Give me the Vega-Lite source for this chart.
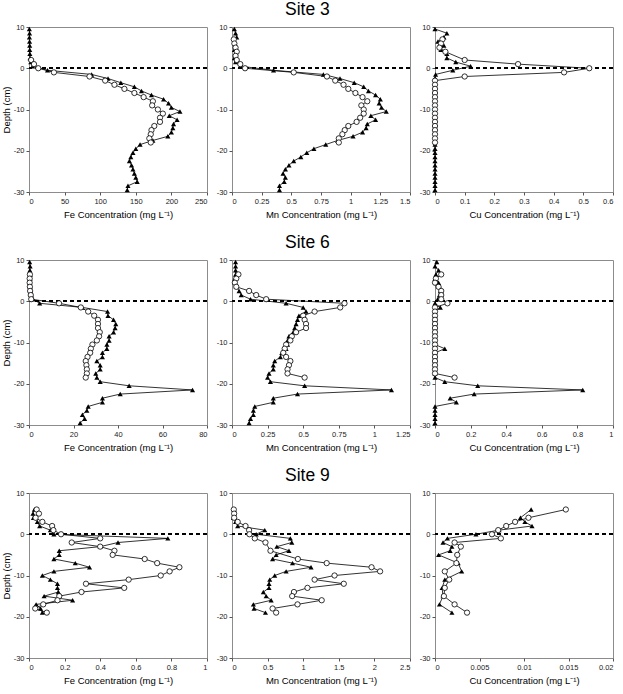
{
"$schema":"https://vega.github.io/schema/vega-lite/v6.json",
"padding":{"left":0,"top":1,"right":4,"bottom":1},
"datasets":{"d":[
{"s":3,"e":"Fe","t":"T","d":9.5,"v":0.5},{"s":3,"e":"Fe","t":"T","d":8.5,"v":0.8},{"s":3,"e":"Fe","t":"T","d":7.5,"v":0.6},{"s":3,"e":"Fe","t":"T","d":6.5,"v":0.8},{"s":3,"e":"Fe","t":"T","d":5.5,"v":1},{"s":3,"e":"Fe","t":"T","d":4.5,"v":1},{"s":3,"e":"Fe","t":"T","d":3.5,"v":1.2},{"s":3,"e":"Fe","t":"T","d":2.5,"v":1.5},{"s":3,"e":"Fe","t":"T","d":1.5,"v":2.5},{"s":3,"e":"Fe","t":"T","d":0.5,"v":5},{"s":3,"e":"Fe","t":"T","d":-0.5,"v":26},{"s":3,"e":"Fe","t":"T","d":-1.5,"v":88},{"s":3,"e":"Fe","t":"T","d":-2.5,"v":111},{"s":3,"e":"Fe","t":"T","d":-3.5,"v":129},{"s":3,"e":"Fe","t":"T","d":-4.5,"v":148},{"s":3,"e":"Fe","t":"T","d":-5.5,"v":158},{"s":3,"e":"Fe","t":"T","d":-6.5,"v":172},{"s":3,"e":"Fe","t":"T","d":-7.5,"v":189},{"s":3,"e":"Fe","t":"T","d":-8.5,"v":196},{"s":3,"e":"Fe","t":"T","d":-9.5,"v":200},{"s":3,"e":"Fe","t":"T","d":-10.5,"v":212},{"s":3,"e":"Fe","t":"T","d":-11.5,"v":197},{"s":3,"e":"Fe","t":"T","d":-12.5,"v":208},{"s":3,"e":"Fe","t":"T","d":-13.5,"v":203},{"s":3,"e":"Fe","t":"T","d":-14.5,"v":202},{"s":3,"e":"Fe","t":"T","d":-15.5,"v":200},{"s":3,"e":"Fe","t":"T","d":-16.5,"v":195},{"s":3,"e":"Fe","t":"T","d":-17.5,"v":174},{"s":3,"e":"Fe","t":"T","d":-18.5,"v":156},{"s":3,"e":"Fe","t":"T","d":-19.5,"v":150},{"s":3,"e":"Fe","t":"T","d":-20.5,"v":146},{"s":3,"e":"Fe","t":"T","d":-21.5,"v":143},{"s":3,"e":"Fe","t":"T","d":-22.5,"v":141},{"s":3,"e":"Fe","t":"T","d":-23.5,"v":144},{"s":3,"e":"Fe","t":"T","d":-24.5,"v":146},{"s":3,"e":"Fe","t":"T","d":-25.5,"v":148},{"s":3,"e":"Fe","t":"T","d":-26.5,"v":150},{"s":3,"e":"Fe","t":"T","d":-27.5,"v":152},{"s":3,"e":"Fe","t":"T","d":-28.5,"v":139},{"s":3,"e":"Fe","t":"T","d":-29.5,"v":138},
{"s":3,"e":"Fe","t":"C","d":2,"v":3},{"s":3,"e":"Fe","t":"C","d":1,"v":7},{"s":3,"e":"Fe","t":"C","d":0,"v":13},{"s":3,"e":"Fe","t":"C","d":-1,"v":35},{"s":3,"e":"Fe","t":"C","d":-2,"v":85},{"s":3,"e":"Fe","t":"C","d":-3,"v":107},{"s":3,"e":"Fe","t":"C","d":-4,"v":120},{"s":3,"e":"Fe","t":"C","d":-5,"v":134},{"s":3,"e":"Fe","t":"C","d":-6,"v":148},{"s":3,"e":"Fe","t":"C","d":-7,"v":161},{"s":3,"e":"Fe","t":"C","d":-8,"v":174},{"s":3,"e":"Fe","t":"C","d":-9,"v":173},{"s":3,"e":"Fe","t":"C","d":-10,"v":181},{"s":3,"e":"Fe","t":"C","d":-11,"v":188},{"s":3,"e":"Fe","t":"C","d":-12,"v":184},{"s":3,"e":"Fe","t":"C","d":-13,"v":184},{"s":3,"e":"Fe","t":"C","d":-14,"v":176},{"s":3,"e":"Fe","t":"C","d":-15,"v":172},{"s":3,"e":"Fe","t":"C","d":-16,"v":171},{"s":3,"e":"Fe","t":"C","d":-17,"v":169},{"s":3,"e":"Fe","t":"C","d":-18,"v":171},
{"s":3,"e":"Mn","t":"T","d":9.5,"v":0.02},{"s":3,"e":"Mn","t":"T","d":8.5,"v":0.03},{"s":3,"e":"Mn","t":"T","d":7.5,"v":0.04},{"s":3,"e":"Mn","t":"T","d":6.5,"v":0.02},{"s":3,"e":"Mn","t":"T","d":5.5,"v":0.03},{"s":3,"e":"Mn","t":"T","d":4.5,"v":0.02},{"s":3,"e":"Mn","t":"T","d":3.5,"v":0.03},{"s":3,"e":"Mn","t":"T","d":2.5,"v":0.02},{"s":3,"e":"Mn","t":"T","d":1.5,"v":0.03},{"s":3,"e":"Mn","t":"T","d":0.5,"v":0.07},{"s":3,"e":"Mn","t":"T","d":-0.5,"v":0.35},{"s":3,"e":"Mn","t":"T","d":-1.5,"v":0.77},{"s":3,"e":"Mn","t":"T","d":-2.5,"v":0.91},{"s":3,"e":"Mn","t":"T","d":-3.5,"v":1.03},{"s":3,"e":"Mn","t":"T","d":-4.5,"v":1.11},{"s":3,"e":"Mn","t":"T","d":-5.5,"v":1.15},{"s":3,"e":"Mn","t":"T","d":-6.5,"v":1.21},{"s":3,"e":"Mn","t":"T","d":-7.5,"v":1.25},{"s":3,"e":"Mn","t":"T","d":-8.5,"v":1.24},{"s":3,"e":"Mn","t":"T","d":-9.5,"v":1.26},{"s":3,"e":"Mn","t":"T","d":-10.5,"v":1.3},{"s":3,"e":"Mn","t":"T","d":-11.5,"v":1.17},{"s":3,"e":"Mn","t":"T","d":-12.5,"v":1.21},{"s":3,"e":"Mn","t":"T","d":-13.5,"v":1.14},{"s":3,"e":"Mn","t":"T","d":-14.5,"v":1.13},{"s":3,"e":"Mn","t":"T","d":-15.5,"v":1.1},{"s":3,"e":"Mn","t":"T","d":-16.5,"v":1.02},{"s":3,"e":"Mn","t":"T","d":-17.5,"v":0.89},{"s":3,"e":"Mn","t":"T","d":-18.5,"v":0.79},{"s":3,"e":"Mn","t":"T","d":-19.5,"v":0.69},{"s":3,"e":"Mn","t":"T","d":-20.5,"v":0.63},{"s":3,"e":"Mn","t":"T","d":-21.5,"v":0.58},{"s":3,"e":"Mn","t":"T","d":-22.5,"v":0.52},{"s":3,"e":"Mn","t":"T","d":-23.5,"v":0.48},{"s":3,"e":"Mn","t":"T","d":-24.5,"v":0.45},{"s":3,"e":"Mn","t":"T","d":-25.5,"v":0.43},{"s":3,"e":"Mn","t":"T","d":-26.5,"v":0.45},{"s":3,"e":"Mn","t":"T","d":-27.5,"v":0.44},{"s":3,"e":"Mn","t":"T","d":-28.5,"v":0.4},{"s":3,"e":"Mn","t":"T","d":-29.5,"v":0.4},
{"s":3,"e":"Mn","t":"C","d":7,"v":0.015},{"s":3,"e":"Mn","t":"C","d":6,"v":0.02},{"s":3,"e":"Mn","t":"C","d":5,"v":0.03},{"s":3,"e":"Mn","t":"C","d":4,"v":0.04},{"s":3,"e":"Mn","t":"C","d":3,"v":0.03},{"s":3,"e":"Mn","t":"C","d":2,"v":0.04},{"s":3,"e":"Mn","t":"C","d":1,"v":0.07},{"s":3,"e":"Mn","t":"C","d":0,"v":0.11},{"s":3,"e":"Mn","t":"C","d":-1,"v":0.52},{"s":3,"e":"Mn","t":"C","d":-2,"v":0.8},{"s":3,"e":"Mn","t":"C","d":-3,"v":0.87},{"s":3,"e":"Mn","t":"C","d":-4,"v":0.94},{"s":3,"e":"Mn","t":"C","d":-5,"v":0.98},{"s":3,"e":"Mn","t":"C","d":-6,"v":1.04},{"s":3,"e":"Mn","t":"C","d":-7,"v":1.1},{"s":3,"e":"Mn","t":"C","d":-8,"v":1.14},{"s":3,"e":"Mn","t":"C","d":-9,"v":1.09},{"s":3,"e":"Mn","t":"C","d":-10,"v":1.11},{"s":3,"e":"Mn","t":"C","d":-11,"v":1.11},{"s":3,"e":"Mn","t":"C","d":-12,"v":1.08},{"s":3,"e":"Mn","t":"C","d":-13,"v":1.05},{"s":3,"e":"Mn","t":"C","d":-14,"v":0.98},{"s":3,"e":"Mn","t":"C","d":-15,"v":0.95},{"s":3,"e":"Mn","t":"C","d":-16,"v":0.93},{"s":3,"e":"Mn","t":"C","d":-17,"v":0.9},{"s":3,"e":"Mn","t":"C","d":-18,"v":0.9},
{"s":3,"e":"Cu","t":"T","d":9.5,"v":0},{"s":3,"e":"Cu","t":"T","d":8.5,"v":0.04},{"s":3,"e":"Cu","t":"T","d":7.5,"v":0.03},{"s":3,"e":"Cu","t":"T","d":6.5,"v":0.01},{"s":3,"e":"Cu","t":"T","d":5.5,"v":0.03},{"s":3,"e":"Cu","t":"T","d":4.5,"v":0.02},{"s":3,"e":"Cu","t":"T","d":3.5,"v":0.04},{"s":3,"e":"Cu","t":"T","d":2.5,"v":0.04},{"s":3,"e":"Cu","t":"T","d":1.5,"v":0.07},{"s":3,"e":"Cu","t":"T","d":0.5,"v":0.12},{"s":3,"e":"Cu","t":"T","d":-0.5,"v":0.06},{"s":3,"e":"Cu","t":"T","d":-1.5,"v":0.002},{"s":3,"e":"Cu","t":"T","d":-2.5,"v":0},{"s":3,"e":"Cu","t":"T","d":-3.5,"v":0},{"s":3,"e":"Cu","t":"T","d":-4.5,"v":0},{"s":3,"e":"Cu","t":"T","d":-5.5,"v":0},{"s":3,"e":"Cu","t":"T","d":-6.5,"v":0},{"s":3,"e":"Cu","t":"T","d":-7.5,"v":0},{"s":3,"e":"Cu","t":"T","d":-8.5,"v":0},{"s":3,"e":"Cu","t":"T","d":-9.5,"v":0},{"s":3,"e":"Cu","t":"T","d":-10.5,"v":0},{"s":3,"e":"Cu","t":"T","d":-11.5,"v":0},{"s":3,"e":"Cu","t":"T","d":-12.5,"v":0},{"s":3,"e":"Cu","t":"T","d":-13.5,"v":0},{"s":3,"e":"Cu","t":"T","d":-14.5,"v":0},{"s":3,"e":"Cu","t":"T","d":-15.5,"v":0},{"s":3,"e":"Cu","t":"T","d":-16.5,"v":0},{"s":3,"e":"Cu","t":"T","d":-17.5,"v":0},{"s":3,"e":"Cu","t":"T","d":-18.5,"v":0},{"s":3,"e":"Cu","t":"T","d":-19.5,"v":0},{"s":3,"e":"Cu","t":"T","d":-20.5,"v":0},{"s":3,"e":"Cu","t":"T","d":-21.5,"v":0},{"s":3,"e":"Cu","t":"T","d":-22.5,"v":0},{"s":3,"e":"Cu","t":"T","d":-23.5,"v":0},{"s":3,"e":"Cu","t":"T","d":-24.5,"v":0},{"s":3,"e":"Cu","t":"T","d":-25.5,"v":0},{"s":3,"e":"Cu","t":"T","d":-26.5,"v":0},{"s":3,"e":"Cu","t":"T","d":-27.5,"v":0},{"s":3,"e":"Cu","t":"T","d":-28.5,"v":0},{"s":3,"e":"Cu","t":"T","d":-29.5,"v":0},
{"s":3,"e":"Cu","t":"C","d":7,"v":0.025},{"s":3,"e":"Cu","t":"C","d":6,"v":0.02},{"s":3,"e":"Cu","t":"C","d":5,"v":0.015},{"s":3,"e":"Cu","t":"C","d":4,"v":0.035},{"s":3,"e":"Cu","t":"C","d":2,"v":0.1},{"s":3,"e":"Cu","t":"C","d":1,"v":0.28},{"s":3,"e":"Cu","t":"C","d":0,"v":0.52},{"s":3,"e":"Cu","t":"C","d":-1,"v":0.435},{"s":3,"e":"Cu","t":"C","d":-2,"v":0.1},{"s":3,"e":"Cu","t":"C","d":-3,"v":0},{"s":3,"e":"Cu","t":"C","d":-4,"v":0},{"s":3,"e":"Cu","t":"C","d":-5,"v":0},{"s":3,"e":"Cu","t":"C","d":-6,"v":0},{"s":3,"e":"Cu","t":"C","d":-7,"v":0},{"s":3,"e":"Cu","t":"C","d":-8,"v":0},{"s":3,"e":"Cu","t":"C","d":-9,"v":0},{"s":3,"e":"Cu","t":"C","d":-10,"v":0},{"s":3,"e":"Cu","t":"C","d":-11,"v":0},{"s":3,"e":"Cu","t":"C","d":-12,"v":0},{"s":3,"e":"Cu","t":"C","d":-13,"v":0},{"s":3,"e":"Cu","t":"C","d":-14,"v":0},{"s":3,"e":"Cu","t":"C","d":-15,"v":0},{"s":3,"e":"Cu","t":"C","d":-16,"v":0},{"s":3,"e":"Cu","t":"C","d":-17,"v":0},{"s":3,"e":"Cu","t":"C","d":-18,"v":0},
{"s":6,"e":"Fe","t":"T","d":9.5,"v":0.3},{"s":6,"e":"Fe","t":"T","d":8.5,"v":0.5},{"s":6,"e":"Fe","t":"T","d":7.5,"v":0.4},{"s":6,"e":"Fe","t":"T","d":6.5,"v":0.6},{"s":6,"e":"Fe","t":"T","d":5.5,"v":0.5},{"s":6,"e":"Fe","t":"T","d":4.5,"v":0.4},{"s":6,"e":"Fe","t":"T","d":3.5,"v":0.5},{"s":6,"e":"Fe","t":"T","d":2.5,"v":0.6},{"s":6,"e":"Fe","t":"T","d":1.5,"v":1},{"s":6,"e":"Fe","t":"T","d":0.5,"v":1.8},{"s":6,"e":"Fe","t":"T","d":-0.5,"v":4.8},{"s":6,"e":"Fe","t":"T","d":-1.5,"v":24},{"s":6,"e":"Fe","t":"T","d":-2.5,"v":35.3},{"s":6,"e":"Fe","t":"T","d":-3.5,"v":35.5},{"s":6,"e":"Fe","t":"T","d":-4.5,"v":38},{"s":6,"e":"Fe","t":"T","d":-5.5,"v":39},{"s":6,"e":"Fe","t":"T","d":-6.5,"v":38.7},{"s":6,"e":"Fe","t":"T","d":-7.5,"v":38},{"s":6,"e":"Fe","t":"T","d":-8.5,"v":36},{"s":6,"e":"Fe","t":"T","d":-9.5,"v":36},{"s":6,"e":"Fe","t":"T","d":-10.5,"v":35},{"s":6,"e":"Fe","t":"T","d":-11.5,"v":35},{"s":6,"e":"Fe","t":"T","d":-12.5,"v":33},{"s":6,"e":"Fe","t":"T","d":-13.5,"v":33},{"s":6,"e":"Fe","t":"T","d":-14.5,"v":30.5},{"s":6,"e":"Fe","t":"T","d":-15.5,"v":32},{"s":6,"e":"Fe","t":"T","d":-16.5,"v":32},{"s":6,"e":"Fe","t":"T","d":-17.5,"v":30},{"s":6,"e":"Fe","t":"T","d":-18.5,"v":30.5},{"s":6,"e":"Fe","t":"T","d":-19.5,"v":32},{"s":6,"e":"Fe","t":"T","d":-20.5,"v":45},{"s":6,"e":"Fe","t":"T","d":-21.5,"v":73.5},{"s":6,"e":"Fe","t":"T","d":-22.5,"v":41},{"s":6,"e":"Fe","t":"T","d":-23.5,"v":33},{"s":6,"e":"Fe","t":"T","d":-24.5,"v":33},{"s":6,"e":"Fe","t":"T","d":-25.5,"v":26.6},{"s":6,"e":"Fe","t":"T","d":-26.5,"v":26},{"s":6,"e":"Fe","t":"T","d":-27.5,"v":24},{"s":6,"e":"Fe","t":"T","d":-28.5,"v":25},{"s":6,"e":"Fe","t":"T","d":-29.5,"v":23},
{"s":6,"e":"Fe","t":"C","d":6.5,"v":0.4},{"s":6,"e":"Fe","t":"C","d":5.5,"v":0.3},{"s":6,"e":"Fe","t":"C","d":4.5,"v":0.3},{"s":6,"e":"Fe","t":"C","d":3.5,"v":0.4},{"s":6,"e":"Fe","t":"C","d":2.5,"v":0.5},{"s":6,"e":"Fe","t":"C","d":1.5,"v":0.8},{"s":6,"e":"Fe","t":"C","d":0.5,"v":1},{"s":6,"e":"Fe","t":"C","d":-0.5,"v":13.5},{"s":6,"e":"Fe","t":"C","d":-1.5,"v":23.3},{"s":6,"e":"Fe","t":"C","d":-2.5,"v":26.6},{"s":6,"e":"Fe","t":"C","d":-3.5,"v":29.3},{"s":6,"e":"Fe","t":"C","d":-4.5,"v":31},{"s":6,"e":"Fe","t":"C","d":-5.5,"v":31},{"s":6,"e":"Fe","t":"C","d":-6.5,"v":31},{"s":6,"e":"Fe","t":"C","d":-7.5,"v":31.8},{"s":6,"e":"Fe","t":"C","d":-8.5,"v":31.5},{"s":6,"e":"Fe","t":"C","d":-9.5,"v":30.5},{"s":6,"e":"Fe","t":"C","d":-10.5,"v":28.5},{"s":6,"e":"Fe","t":"C","d":-11.5,"v":27.8},{"s":6,"e":"Fe","t":"C","d":-12.5,"v":27.5},{"s":6,"e":"Fe","t":"C","d":-13.5,"v":26.3},{"s":6,"e":"Fe","t":"C","d":-14.5,"v":25.5},{"s":6,"e":"Fe","t":"C","d":-15.5,"v":25.8},{"s":6,"e":"Fe","t":"C","d":-16.5,"v":26},{"s":6,"e":"Fe","t":"C","d":-17.5,"v":26},{"s":6,"e":"Fe","t":"C","d":-18.5,"v":25.5},
{"s":6,"e":"Mn","t":"T","d":9.5,"v":0.025},{"s":6,"e":"Mn","t":"T","d":8.5,"v":0.025},{"s":6,"e":"Mn","t":"T","d":7.5,"v":0.025},{"s":6,"e":"Mn","t":"T","d":6.5,"v":0.025},{"s":6,"e":"Mn","t":"T","d":5.5,"v":0.02},{"s":6,"e":"Mn","t":"T","d":4.5,"v":0.02},{"s":6,"e":"Mn","t":"T","d":3.5,"v":0.03},{"s":6,"e":"Mn","t":"T","d":2.5,"v":0.05},{"s":6,"e":"Mn","t":"T","d":1.5,"v":0.065},{"s":6,"e":"Mn","t":"T","d":0.5,"v":0.13},{"s":6,"e":"Mn","t":"T","d":-0.5,"v":0.38},{"s":6,"e":"Mn","t":"T","d":-1.5,"v":0.5},{"s":6,"e":"Mn","t":"T","d":-2.5,"v":0.52},{"s":6,"e":"Mn","t":"T","d":-3.5,"v":0.47},{"s":6,"e":"Mn","t":"T","d":-4.5,"v":0.46},{"s":6,"e":"Mn","t":"T","d":-5.5,"v":0.45},{"s":6,"e":"Mn","t":"T","d":-6.5,"v":0.44},{"s":6,"e":"Mn","t":"T","d":-7.5,"v":0.43},{"s":6,"e":"Mn","t":"T","d":-8.5,"v":0.4},{"s":6,"e":"Mn","t":"T","d":-9.5,"v":0.39},{"s":6,"e":"Mn","t":"T","d":-10.5,"v":0.39},{"s":6,"e":"Mn","t":"T","d":-11.5,"v":0.38},{"s":6,"e":"Mn","t":"T","d":-12.5,"v":0.35},{"s":6,"e":"Mn","t":"T","d":-13.5,"v":0.34},{"s":6,"e":"Mn","t":"T","d":-14.5,"v":0.3},{"s":6,"e":"Mn","t":"T","d":-15.5,"v":0.29},{"s":6,"e":"Mn","t":"T","d":-16.5,"v":0.29},{"s":6,"e":"Mn","t":"T","d":-17.5,"v":0.26},{"s":6,"e":"Mn","t":"T","d":-18.5,"v":0.25},{"s":6,"e":"Mn","t":"T","d":-19.5,"v":0.27},{"s":6,"e":"Mn","t":"T","d":-20.5,"v":0.51},{"s":6,"e":"Mn","t":"T","d":-21.5,"v":1.12},{"s":6,"e":"Mn","t":"T","d":-22.5,"v":0.46},{"s":6,"e":"Mn","t":"T","d":-23.5,"v":0.29},{"s":6,"e":"Mn","t":"T","d":-24.5,"v":0.29},{"s":6,"e":"Mn","t":"T","d":-25.5,"v":0.16},{"s":6,"e":"Mn","t":"T","d":-26.5,"v":0.15},{"s":6,"e":"Mn","t":"T","d":-27.5,"v":0.15},{"s":6,"e":"Mn","t":"T","d":-28.5,"v":0.13},{"s":6,"e":"Mn","t":"T","d":-29.5,"v":0.12},
{"s":6,"e":"Mn","t":"C","d":6.5,"v":0.045},{"s":6,"e":"Mn","t":"C","d":5.5,"v":0.03},{"s":6,"e":"Mn","t":"C","d":4.5,"v":0.02},{"s":6,"e":"Mn","t":"C","d":3.5,"v":0.03},{"s":6,"e":"Mn","t":"C","d":2.5,"v":0.12},{"s":6,"e":"Mn","t":"C","d":1.5,"v":0.17},{"s":6,"e":"Mn","t":"C","d":0.5,"v":0.24},{"s":6,"e":"Mn","t":"C","d":-0.5,"v":0.79},{"s":6,"e":"Mn","t":"C","d":-1.5,"v":0.76},{"s":6,"e":"Mn","t":"C","d":-2.5,"v":0.58},{"s":6,"e":"Mn","t":"C","d":-3.5,"v":0.5},{"s":6,"e":"Mn","t":"C","d":-4.5,"v":0.51},{"s":6,"e":"Mn","t":"C","d":-5.5,"v":0.52},{"s":6,"e":"Mn","t":"C","d":-6.5,"v":0.52},{"s":6,"e":"Mn","t":"C","d":-7.5,"v":0.45},{"s":6,"e":"Mn","t":"C","d":-8.5,"v":0.42},{"s":6,"e":"Mn","t":"C","d":-9.5,"v":0.41},{"s":6,"e":"Mn","t":"C","d":-10.5,"v":0.38},{"s":6,"e":"Mn","t":"C","d":-11.5,"v":0.37},{"s":6,"e":"Mn","t":"C","d":-12.5,"v":0.36},{"s":6,"e":"Mn","t":"C","d":-13.5,"v":0.38},{"s":6,"e":"Mn","t":"C","d":-14.5,"v":0.41},{"s":6,"e":"Mn","t":"C","d":-15.5,"v":0.4},{"s":6,"e":"Mn","t":"C","d":-16.5,"v":0.39},{"s":6,"e":"Mn","t":"C","d":-17.5,"v":0.39},{"s":6,"e":"Mn","t":"C","d":-18.5,"v":0.51},
{"s":6,"e":"Cu","t":"T","d":9.5,"v":0.01},{"s":6,"e":"Cu","t":"T","d":8.5,"v":0},{"s":6,"e":"Cu","t":"T","d":7.5,"v":0.02},{"s":6,"e":"Cu","t":"T","d":6.5,"v":0.005},{"s":6,"e":"Cu","t":"T","d":5.5,"v":0},{"s":6,"e":"Cu","t":"T","d":4.5,"v":0.02},{"s":6,"e":"Cu","t":"T","d":3.5,"v":0.025},{"s":6,"e":"Cu","t":"T","d":2.5,"v":0.03},{"s":6,"e":"Cu","t":"T","d":1.5,"v":0.025},{"s":6,"e":"Cu","t":"T","d":0.5,"v":0.015},{"s":6,"e":"Cu","t":"T","d":-0.5,"v":0},{"s":6,"e":"Cu","t":"T","d":-1.5,"v":0.03},{"s":6,"e":"Cu","t":"T","d":-2.5,"v":0},{"s":6,"e":"Cu","t":"T","d":-3.5,"v":0},{"s":6,"e":"Cu","t":"T","d":-4.5,"v":0},{"s":6,"e":"Cu","t":"T","d":-5.5,"v":0},{"s":6,"e":"Cu","t":"T","d":-6.5,"v":0},{"s":6,"e":"Cu","t":"T","d":-7.5,"v":0},{"s":6,"e":"Cu","t":"T","d":-8.5,"v":0},{"s":6,"e":"Cu","t":"T","d":-9.5,"v":0},{"s":6,"e":"Cu","t":"T","d":-10.5,"v":0},{"s":6,"e":"Cu","t":"T","d":-11.5,"v":0.055},{"s":6,"e":"Cu","t":"T","d":-12.5,"v":0},{"s":6,"e":"Cu","t":"T","d":-13.5,"v":0},{"s":6,"e":"Cu","t":"T","d":-14.5,"v":0},{"s":6,"e":"Cu","t":"T","d":-15.5,"v":0},{"s":6,"e":"Cu","t":"T","d":-16.5,"v":0},{"s":6,"e":"Cu","t":"T","d":-17.5,"v":0},{"s":6,"e":"Cu","t":"T","d":-18.5,"v":0},{"s":6,"e":"Cu","t":"T","d":-19.5,"v":0.055},{"s":6,"e":"Cu","t":"T","d":-20.5,"v":0.24},{"s":6,"e":"Cu","t":"T","d":-21.5,"v":0.83},{"s":6,"e":"Cu","t":"T","d":-22.5,"v":0.22},{"s":6,"e":"Cu","t":"T","d":-23.5,"v":0.085},{"s":6,"e":"Cu","t":"T","d":-24.5,"v":0.12},{"s":6,"e":"Cu","t":"T","d":-25.5,"v":0},{"s":6,"e":"Cu","t":"T","d":-26.5,"v":0},{"s":6,"e":"Cu","t":"T","d":-27.5,"v":0},{"s":6,"e":"Cu","t":"T","d":-28.5,"v":0},{"s":6,"e":"Cu","t":"T","d":-29.5,"v":0},
{"s":6,"e":"Cu","t":"C","d":6.5,"v":0.035},{"s":6,"e":"Cu","t":"C","d":5.5,"v":0.005},{"s":6,"e":"Cu","t":"C","d":4.5,"v":0},{"s":6,"e":"Cu","t":"C","d":3.5,"v":0.02},{"s":6,"e":"Cu","t":"C","d":2.5,"v":0.035},{"s":6,"e":"Cu","t":"C","d":1.5,"v":0.035},{"s":6,"e":"Cu","t":"C","d":0.5,"v":0.035},{"s":6,"e":"Cu","t":"C","d":-0.5,"v":0.07},{"s":6,"e":"Cu","t":"C","d":-1.5,"v":0},{"s":6,"e":"Cu","t":"C","d":-2.5,"v":0},{"s":6,"e":"Cu","t":"C","d":-3.5,"v":0},{"s":6,"e":"Cu","t":"C","d":-4.5,"v":0},{"s":6,"e":"Cu","t":"C","d":-5.5,"v":0},{"s":6,"e":"Cu","t":"C","d":-6.5,"v":0},{"s":6,"e":"Cu","t":"C","d":-7.5,"v":0},{"s":6,"e":"Cu","t":"C","d":-8.5,"v":0},{"s":6,"e":"Cu","t":"C","d":-9.5,"v":0},{"s":6,"e":"Cu","t":"C","d":-10.5,"v":0},{"s":6,"e":"Cu","t":"C","d":-11.5,"v":0},{"s":6,"e":"Cu","t":"C","d":-12.5,"v":0},{"s":6,"e":"Cu","t":"C","d":-13.5,"v":0},{"s":6,"e":"Cu","t":"C","d":-14.5,"v":0},{"s":6,"e":"Cu","t":"C","d":-15.5,"v":0},{"s":6,"e":"Cu","t":"C","d":-16.5,"v":0},{"s":6,"e":"Cu","t":"C","d":-17.5,"v":0},{"s":6,"e":"Cu","t":"C","d":-18.5,"v":0.11},
{"s":9,"e":"Fe","t":"T","d":6,"v":0.03},{"s":9,"e":"Fe","t":"T","d":5,"v":0.022},{"s":9,"e":"Fe","t":"T","d":4,"v":0.025},{"s":9,"e":"Fe","t":"T","d":3,"v":0.047},{"s":9,"e":"Fe","t":"T","d":2,"v":0.06},{"s":9,"e":"Fe","t":"T","d":1,"v":0.12},{"s":9,"e":"Fe","t":"T","d":0,"v":0.14},{"s":9,"e":"Fe","t":"T","d":-1,"v":0.78},{"s":9,"e":"Fe","t":"T","d":-2,"v":0.5},{"s":9,"e":"Fe","t":"T","d":-3,"v":0.4},{"s":9,"e":"Fe","t":"T","d":-4,"v":0.17},{"s":9,"e":"Fe","t":"T","d":-5,"v":0.17},{"s":9,"e":"Fe","t":"T","d":-6,"v":0.14},{"s":9,"e":"Fe","t":"T","d":-7,"v":0.26},{"s":9,"e":"Fe","t":"T","d":-8,"v":0.34},{"s":9,"e":"Fe","t":"T","d":-9,"v":0.14},{"s":9,"e":"Fe","t":"T","d":-10,"v":0.075},{"s":9,"e":"Fe","t":"T","d":-11,"v":0.12},{"s":9,"e":"Fe","t":"T","d":-12,"v":0.16},{"s":9,"e":"Fe","t":"T","d":-13,"v":0.16},{"s":9,"e":"Fe","t":"T","d":-14,"v":0.165},{"s":9,"e":"Fe","t":"T","d":-15,"v":0.085},{"s":9,"e":"Fe","t":"T","d":-16,"v":0.245},{"s":9,"e":"Fe","t":"T","d":-17,"v":0.04},{"s":9,"e":"Fe","t":"T","d":-18,"v":0.065},{"s":9,"e":"Fe","t":"T","d":-19,"v":0.075},
{"s":9,"e":"Fe","t":"C","d":6,"v":0.043},{"s":9,"e":"Fe","t":"C","d":5,"v":0.056},{"s":9,"e":"Fe","t":"C","d":4,"v":0.037},{"s":9,"e":"Fe","t":"C","d":3,"v":0.075},{"s":9,"e":"Fe","t":"C","d":2,"v":0.13},{"s":9,"e":"Fe","t":"C","d":1,"v":0.137},{"s":9,"e":"Fe","t":"C","d":0,"v":0.18},{"s":9,"e":"Fe","t":"C","d":-1,"v":0.4},{"s":9,"e":"Fe","t":"C","d":-2,"v":0.24},{"s":9,"e":"Fe","t":"C","d":-3,"v":0.4},{"s":9,"e":"Fe","t":"C","d":-4,"v":0.48},{"s":9,"e":"Fe","t":"C","d":-5,"v":0.47},{"s":9,"e":"Fe","t":"C","d":-6,"v":0.65},{"s":9,"e":"Fe","t":"C","d":-7,"v":0.72},{"s":9,"e":"Fe","t":"C","d":-8,"v":0.845},{"s":9,"e":"Fe","t":"C","d":-9,"v":0.79},{"s":9,"e":"Fe","t":"C","d":-10,"v":0.74},{"s":9,"e":"Fe","t":"C","d":-11,"v":0.56},{"s":9,"e":"Fe","t":"C","d":-12,"v":0.32},{"s":9,"e":"Fe","t":"C","d":-13,"v":0.535},{"s":9,"e":"Fe","t":"C","d":-14,"v":0.295},{"s":9,"e":"Fe","t":"C","d":-15,"v":0.17},{"s":9,"e":"Fe","t":"C","d":-16,"v":0.16},{"s":9,"e":"Fe","t":"C","d":-17,"v":0.08},{"s":9,"e":"Fe","t":"C","d":-18,"v":0.035},{"s":9,"e":"Fe","t":"C","d":-19,"v":0.1},
{"s":9,"e":"Mn","t":"T","d":6,"v":0.03},{"s":9,"e":"Mn","t":"T","d":5,"v":0.03},{"s":9,"e":"Mn","t":"T","d":4,"v":0.02},{"s":9,"e":"Mn","t":"T","d":3,"v":0.05},{"s":9,"e":"Mn","t":"T","d":2,"v":0.08},{"s":9,"e":"Mn","t":"T","d":1,"v":0.46},{"s":9,"e":"Mn","t":"T","d":0,"v":0.34},{"s":9,"e":"Mn","t":"T","d":-1,"v":0.82},{"s":9,"e":"Mn","t":"T","d":-2,"v":0.84},{"s":9,"e":"Mn","t":"T","d":-3,"v":0.63},{"s":9,"e":"Mn","t":"T","d":-4,"v":0.8},{"s":9,"e":"Mn","t":"T","d":-5,"v":0.62},{"s":9,"e":"Mn","t":"T","d":-6,"v":0.57},{"s":9,"e":"Mn","t":"T","d":-7,"v":0.85},{"s":9,"e":"Mn","t":"T","d":-8,"v":1.11},{"s":9,"e":"Mn","t":"T","d":-9,"v":0.76},{"s":9,"e":"Mn","t":"T","d":-10,"v":0.6},{"s":9,"e":"Mn","t":"T","d":-11,"v":0.53},{"s":9,"e":"Mn","t":"T","d":-12,"v":0.52},{"s":9,"e":"Mn","t":"T","d":-13,"v":0.52},{"s":9,"e":"Mn","t":"T","d":-14,"v":0.44},{"s":9,"e":"Mn","t":"T","d":-15,"v":0.48},{"s":9,"e":"Mn","t":"T","d":-16,"v":0.55},{"s":9,"e":"Mn","t":"T","d":-17,"v":0.3},{"s":9,"e":"Mn","t":"T","d":-18,"v":0.31},{"s":9,"e":"Mn","t":"T","d":-19,"v":0.47},
{"s":9,"e":"Mn","t":"C","d":6,"v":0.025},{"s":9,"e":"Mn","t":"C","d":5,"v":0.03},{"s":9,"e":"Mn","t":"C","d":4,"v":0.03},{"s":9,"e":"Mn","t":"C","d":3,"v":0.08},{"s":9,"e":"Mn","t":"C","d":2,"v":0.19},{"s":9,"e":"Mn","t":"C","d":1,"v":0.24},{"s":9,"e":"Mn","t":"C","d":0,"v":0.245},{"s":9,"e":"Mn","t":"C","d":-1,"v":0.32},{"s":9,"e":"Mn","t":"C","d":-2,"v":0.47},{"s":9,"e":"Mn","t":"C","d":-4,"v":0.54},{"s":9,"e":"Mn","t":"C","d":-6,"v":0.925},{"s":9,"e":"Mn","t":"C","d":-7,"v":1.33},{"s":9,"e":"Mn","t":"C","d":-8,"v":1.96},{"s":9,"e":"Mn","t":"C","d":-9,"v":2.08},{"s":9,"e":"Mn","t":"C","d":-10,"v":1.44},{"s":9,"e":"Mn","t":"C","d":-11,"v":1.16},{"s":9,"e":"Mn","t":"C","d":-12,"v":1.57},{"s":9,"e":"Mn","t":"C","d":-13,"v":1.06},{"s":9,"e":"Mn","t":"C","d":-14,"v":0.87},{"s":9,"e":"Mn","t":"C","d":-15,"v":0.845},{"s":9,"e":"Mn","t":"C","d":-16,"v":1.26},{"s":9,"e":"Mn","t":"C","d":-17,"v":0.92},{"s":9,"e":"Mn","t":"C","d":-18,"v":0.57},{"s":9,"e":"Mn","t":"C","d":-19,"v":0.62},
{"s":9,"e":"Cu","t":"T","d":6,"v":0.0108},{"s":9,"e":"Cu","t":"T","d":4,"v":0.0096},{"s":9,"e":"Cu","t":"T","d":3,"v":0.0101},{"s":9,"e":"Cu","t":"T","d":2,"v":0.0109},{"s":9,"e":"Cu","t":"T","d":1,"v":0.0072},{"s":9,"e":"Cu","t":"T","d":0,"v":0.0046},{"s":9,"e":"Cu","t":"T","d":-1,"v":0.0014},{"s":9,"e":"Cu","t":"T","d":-2,"v":0.0009},{"s":9,"e":"Cu","t":"T","d":-3,"v":0.0019},{"s":9,"e":"Cu","t":"T","d":-4,"v":0.0017},{"s":9,"e":"Cu","t":"T","d":-5,"v":0.0004},{"s":9,"e":"Cu","t":"T","d":-7,"v":0.0026},{"s":9,"e":"Cu","t":"T","d":-9,"v":0.003},{"s":9,"e":"Cu","t":"T","d":-11,"v":0.0011},{"s":9,"e":"Cu","t":"T","d":-13,"v":0.0008},{"s":9,"e":"Cu","t":"T","d":-15,"v":0.0009},{"s":9,"e":"Cu","t":"T","d":-17,"v":0.0005},{"s":9,"e":"Cu","t":"T","d":-19,"v":0.0019},
{"s":9,"e":"Cu","t":"C","d":6,"v":0.0147},{"s":9,"e":"Cu","t":"C","d":4,"v":0.0105},{"s":9,"e":"Cu","t":"C","d":3,"v":0.009},{"s":9,"e":"Cu","t":"C","d":2,"v":0.008},{"s":9,"e":"Cu","t":"C","d":1,"v":0.0071},{"s":9,"e":"Cu","t":"C","d":0,"v":0.0064},{"s":9,"e":"Cu","t":"C","d":-1,"v":0.0074},{"s":9,"e":"Cu","t":"C","d":-2,"v":0.0022},{"s":9,"e":"Cu","t":"C","d":-3,"v":0.0029},{"s":9,"e":"Cu","t":"C","d":-5,"v":0.0025},{"s":9,"e":"Cu","t":"C","d":-7,"v":0.0024},{"s":9,"e":"Cu","t":"C","d":-9,"v":0.0011},{"s":9,"e":"Cu","t":"C","d":-11,"v":0.0016},{"s":9,"e":"Cu","t":"C","d":-13,"v":0.0011},{"s":9,"e":"Cu","t":"C","d":-15,"v":0.001},{"s":9,"e":"Cu","t":"C","d":-17,"v":0.0022},{"s":9,"e":"Cu","t":"C","d":-19,"v":0.0036}
]},
"data":{"name":"d"},
"spacing":14,
"vconcat":[
{"title":{"text":"Site 3"},"spacing":6,"hconcat":[
 {"width":178,"height":165,"transform":[{"filter":"datum.s==3&&datum.e=='Fe'"}],"layer":[
  {"mark":{"type":"rule","strokeDash":[4,3],"strokeWidth":1.2,"color":"#000"},"encoding":{"y":{"datum":0,"type":"quantitative"}}},
  {"encoding":{"x":{"field":"v","type":"quantitative","scale":{"domain":[0,250],"nice":false},"axis":{"values":[0,50,100,150,200,250],"title":"Fe Concentration (mg L⁻¹)"}},"y":{"field":"d","type":"quantitative","scale":{"domain":[-30,10],"nice":false},"axis":{"values":[-30,-25,-20,-15,-10,-5,0,5,10],"title":"Depth (cm)"}}},
   "layer":[
    {"mark":{"type":"line","color":"#000","strokeWidth":0.8},"encoding":{"detail":{"field":"t"},"order":{"field":"d"}}},
    {"transform":[{"filter":"datum.t=='T'"}],"mark":{"type":"point","shape":"triangle-up","filled":true,"color":"#000","size":26,"opacity":1}},
    {"transform":[{"filter":"datum.t=='C'"}],"mark":{"type":"point","shape":"circle","filled":true,"fill":"#fff","stroke":"#000","strokeWidth":0.8,"size":28,"opacity":1}}
   ]}
 ]},
 {"width":178,"height":165,"transform":[{"filter":"datum.s==3&&datum.e=='Mn'"}],"layer":[
  {"mark":{"type":"rule","strokeDash":[4,3],"strokeWidth":1.2,"color":"#000"},"encoding":{"y":{"datum":0,"type":"quantitative"}}},
  {"encoding":{"x":{"field":"v","type":"quantitative","scale":{"domain":[0,1.5],"nice":false},"axis":{"values":[0,0.25,0.5,0.75,1,1.25,1.5],"title":"Mn Concentration (mg L⁻¹)"}},"y":{"field":"d","type":"quantitative","scale":{"domain":[-30,10],"nice":false},"axis":{"values":[-30,-25,-20,-15,-10,-5,0,5,10],"title":null}}},
   "layer":[
    {"mark":{"type":"line","color":"#000","strokeWidth":0.8},"encoding":{"detail":{"field":"t"},"order":{"field":"d"}}},
    {"transform":[{"filter":"datum.t=='T'"}],"mark":{"type":"point","shape":"triangle-up","filled":true,"color":"#000","size":26,"opacity":1}},
    {"transform":[{"filter":"datum.t=='C'"}],"mark":{"type":"point","shape":"circle","filled":true,"fill":"#fff","stroke":"#000","strokeWidth":0.8,"size":28,"opacity":1}}
   ]}
 ]},
 {"width":178,"height":165,"transform":[{"filter":"datum.s==3&&datum.e=='Cu'"}],"layer":[
  {"mark":{"type":"rule","strokeDash":[4,3],"strokeWidth":1.2,"color":"#000"},"encoding":{"y":{"datum":0,"type":"quantitative"}}},
  {"encoding":{"x":{"field":"v","type":"quantitative","scale":{"domain":[0,0.6],"nice":false},"axis":{"values":[0,0.1,0.2,0.3,0.4,0.5,0.6],"title":"Cu Concentration (mg L⁻¹)"}},"y":{"field":"d","type":"quantitative","scale":{"domain":[-30,10],"nice":false},"axis":{"values":[-30,-25,-20,-15,-10,-5,0,5,10],"title":null}}},
   "layer":[
    {"mark":{"type":"line","color":"#000","strokeWidth":0.8},"encoding":{"detail":{"field":"t"},"order":{"field":"d"}}},
    {"transform":[{"filter":"datum.t=='T'"}],"mark":{"type":"point","shape":"triangle-up","filled":true,"color":"#000","size":26,"opacity":1}},
    {"transform":[{"filter":"datum.t=='C'"}],"mark":{"type":"point","shape":"circle","filled":true,"fill":"#fff","stroke":"#000","strokeWidth":0.8,"size":28,"opacity":1}}
   ]}
 ]}
]},
{"title":{"text":"Site 6"},"spacing":6,"hconcat":[
 {"width":178,"height":165,"transform":[{"filter":"datum.s==6&&datum.e=='Fe'"}],"layer":[
  {"mark":{"type":"rule","strokeDash":[4,3],"strokeWidth":1.2,"color":"#000"},"encoding":{"y":{"datum":0,"type":"quantitative"}}},
  {"encoding":{"x":{"field":"v","type":"quantitative","scale":{"domain":[0,80],"nice":false},"axis":{"values":[0,20,40,60,80],"title":"Fe Concentration (mg L⁻¹)"}},"y":{"field":"d","type":"quantitative","scale":{"domain":[-30,10],"nice":false},"axis":{"values":[-30,-25,-20,-15,-10,-5,0,5,10],"title":"Depth (cm)"}}},
   "layer":[
    {"mark":{"type":"line","color":"#000","strokeWidth":0.8},"encoding":{"detail":{"field":"t"},"order":{"field":"d"}}},
    {"transform":[{"filter":"datum.t=='T'"}],"mark":{"type":"point","shape":"triangle-up","filled":true,"color":"#000","size":26,"opacity":1}},
    {"transform":[{"filter":"datum.t=='C'"}],"mark":{"type":"point","shape":"circle","filled":true,"fill":"#fff","stroke":"#000","strokeWidth":0.8,"size":28,"opacity":1}}
   ]}
 ]},
 {"width":178,"height":165,"transform":[{"filter":"datum.s==6&&datum.e=='Mn'"}],"layer":[
  {"mark":{"type":"rule","strokeDash":[4,3],"strokeWidth":1.2,"color":"#000"},"encoding":{"y":{"datum":0,"type":"quantitative"}}},
  {"encoding":{"x":{"field":"v","type":"quantitative","scale":{"domain":[0,1.25],"nice":false},"axis":{"values":[0,0.25,0.5,0.75,1,1.25],"title":"Mn Concentration (mg L⁻¹)"}},"y":{"field":"d","type":"quantitative","scale":{"domain":[-30,10],"nice":false},"axis":{"values":[-30,-25,-20,-15,-10,-5,0,5,10],"title":null}}},
   "layer":[
    {"mark":{"type":"line","color":"#000","strokeWidth":0.8},"encoding":{"detail":{"field":"t"},"order":{"field":"d"}}},
    {"transform":[{"filter":"datum.t=='T'"}],"mark":{"type":"point","shape":"triangle-up","filled":true,"color":"#000","size":26,"opacity":1}},
    {"transform":[{"filter":"datum.t=='C'"}],"mark":{"type":"point","shape":"circle","filled":true,"fill":"#fff","stroke":"#000","strokeWidth":0.8,"size":28,"opacity":1}}
   ]}
 ]},
 {"width":178,"height":165,"transform":[{"filter":"datum.s==6&&datum.e=='Cu'"}],"layer":[
  {"mark":{"type":"rule","strokeDash":[4,3],"strokeWidth":1.2,"color":"#000"},"encoding":{"y":{"datum":0,"type":"quantitative"}}},
  {"encoding":{"x":{"field":"v","type":"quantitative","scale":{"domain":[0,1],"nice":false},"axis":{"values":[0,0.2,0.4,0.6,0.8,1],"title":"Cu Concentration (mg L⁻¹)"}},"y":{"field":"d","type":"quantitative","scale":{"domain":[-30,10],"nice":false},"axis":{"values":[-30,-25,-20,-15,-10,-5,0,5,10],"title":null}}},
   "layer":[
    {"mark":{"type":"line","color":"#000","strokeWidth":0.8},"encoding":{"detail":{"field":"t"},"order":{"field":"d"}}},
    {"transform":[{"filter":"datum.t=='T'"}],"mark":{"type":"point","shape":"triangle-up","filled":true,"color":"#000","size":26,"opacity":1}},
    {"transform":[{"filter":"datum.t=='C'"}],"mark":{"type":"point","shape":"circle","filled":true,"fill":"#fff","stroke":"#000","strokeWidth":0.8,"size":28,"opacity":1}}
   ]}
 ]}
]},
{"title":{"text":"Site 9"},"spacing":6,"hconcat":[
 {"width":178,"height":165,"transform":[{"filter":"datum.s==9&&datum.e=='Fe'"}],"layer":[
  {"mark":{"type":"rule","strokeDash":[4,3],"strokeWidth":1.2,"color":"#000"},"encoding":{"y":{"datum":0,"type":"quantitative"}}},
  {"encoding":{"x":{"field":"v","type":"quantitative","scale":{"domain":[0,1],"nice":false},"axis":{"values":[0,0.2,0.4,0.6,0.8,1],"title":"Fe Concentration (mg L⁻¹)"}},"y":{"field":"d","type":"quantitative","scale":{"domain":[-30,10],"nice":false},"axis":{"values":[-30,-25,-20,-15,-10,-5,0,5,10],"title":"Depth (cm)"}}},
   "layer":[
    {"mark":{"type":"line","color":"#000","strokeWidth":0.8},"encoding":{"detail":{"field":"t"},"order":{"field":"d"}}},
    {"transform":[{"filter":"datum.t=='T'"}],"mark":{"type":"point","shape":"triangle-up","filled":true,"color":"#000","size":26,"opacity":1}},
    {"transform":[{"filter":"datum.t=='C'"}],"mark":{"type":"point","shape":"circle","filled":true,"fill":"#fff","stroke":"#000","strokeWidth":0.8,"size":28,"opacity":1}}
   ]}
 ]},
 {"width":178,"height":165,"transform":[{"filter":"datum.s==9&&datum.e=='Mn'"}],"layer":[
  {"mark":{"type":"rule","strokeDash":[4,3],"strokeWidth":1.2,"color":"#000"},"encoding":{"y":{"datum":0,"type":"quantitative"}}},
  {"encoding":{"x":{"field":"v","type":"quantitative","scale":{"domain":[0,2.5],"nice":false},"axis":{"values":[0,0.5,1,1.5,2,2.5],"title":"Mn Concentration (mg L⁻¹)"}},"y":{"field":"d","type":"quantitative","scale":{"domain":[-30,10],"nice":false},"axis":{"values":[-30,-25,-20,-15,-10,-5,0,5,10],"title":null}}},
   "layer":[
    {"mark":{"type":"line","color":"#000","strokeWidth":0.8},"encoding":{"detail":{"field":"t"},"order":{"field":"d"}}},
    {"transform":[{"filter":"datum.t=='T'"}],"mark":{"type":"point","shape":"triangle-up","filled":true,"color":"#000","size":26,"opacity":1}},
    {"transform":[{"filter":"datum.t=='C'"}],"mark":{"type":"point","shape":"circle","filled":true,"fill":"#fff","stroke":"#000","strokeWidth":0.8,"size":28,"opacity":1}}
   ]}
 ]},
 {"width":178,"height":165,"transform":[{"filter":"datum.s==9&&datum.e=='Cu'"}],"layer":[
  {"mark":{"type":"rule","strokeDash":[4,3],"strokeWidth":1.2,"color":"#000"},"encoding":{"y":{"datum":0,"type":"quantitative"}}},
  {"encoding":{"x":{"field":"v","type":"quantitative","scale":{"domain":[0,0.02],"nice":false},"axis":{"values":[0,0.005,0.01,0.015,0.02],"title":"Cu Concentration (mg L⁻¹)"}},"y":{"field":"d","type":"quantitative","scale":{"domain":[-30,10],"nice":false},"axis":{"values":[-30,-25,-20,-15,-10,-5,0,5,10],"title":null}}},
   "layer":[
    {"mark":{"type":"line","color":"#000","strokeWidth":0.8},"encoding":{"detail":{"field":"t"},"order":{"field":"d"}}},
    {"transform":[{"filter":"datum.t=='T'"}],"mark":{"type":"point","shape":"triangle-up","filled":true,"color":"#000","size":26,"opacity":1}},
    {"transform":[{"filter":"datum.t=='C'"}],"mark":{"type":"point","shape":"circle","filled":true,"fill":"#fff","stroke":"#000","strokeWidth":0.8,"size":28,"opacity":1}}
   ]}
 ]}
]}
],
"config":{
 "font":"Liberation Sans",
 "view":{"stroke":"#8c8c8c","strokeWidth":1},
 "axis":{"grid":false,"domain":false,"tickSize":3,"tickColor":"#555","labelFontSize":7.5,"labelColor":"#222","titleFontSize":9.5,"titleFontWeight":"normal","titleColor":"#000","labelPadding":2,"labelExpr":"''+datum.value"},
 "axisX":{"titlePadding":5},
 "axisY":{"titlePadding":2},
 "title":{"fontSize":17.5,"fontWeight":"normal","font":"Liberation Sans","anchor":"middle","offset":0,"color":"#000"}
}
}
